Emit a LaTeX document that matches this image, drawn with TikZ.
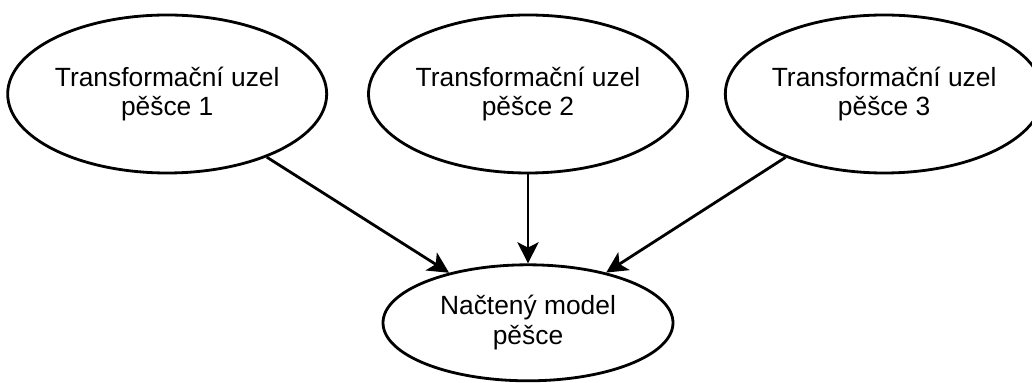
\documentclass[tikz,border=0pt]{standalone}
\usepackage{fontspec}
\setmainfont{Liberation Sans}
\usetikzlibrary{shapes.geometric, arrows.meta, positioning}

\begin{document}
\begin{tikzpicture}[
  node distance=0.7cm and 0.7cm,
  unit/.style={ellipse, draw, line width=1.6pt, inner sep=0pt,
               minimum width=6.38cm, minimum height=3.16cm, align=center,
               font=\fontsize{15}{17}\selectfont},
  model/.style={unit, minimum width=5.8cm, minimum height=2.32cm},
  arr/.style={-{Stealth[length=12pt, width=12pt, inset=3pt]}, line width=1.6pt}
]
  \useasboundingbox (0,0) rectangle (20.64,-7.66);
  \node[unit] (p2) at (10.56,-1.88) {Transformační uzel\\pěšce 2};
  \node[unit, left=0.78cm of p2] (p1) {Transformační uzel\\pěšce 1};
  \node[unit, right=0.7cm of p2, minimum width=6.12cm] (p3) {Transformační uzel\\pěšce 3};
  \node[model, below=1.78cm of p2] (load) {Načtený model\\pěšce};
  \draw[arr] (p1) -- (load);
  \draw[arr] (p2) -- (load);
  \draw[arr] (p3) -- (load);
\end{tikzpicture}
\end{document}
